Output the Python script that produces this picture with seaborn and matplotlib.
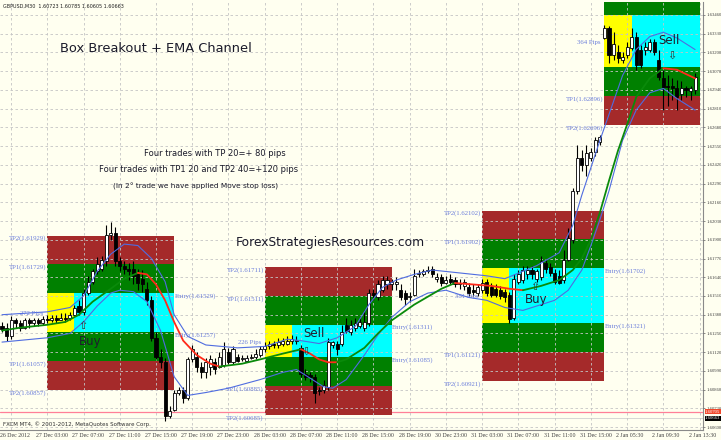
import matplotlib
matplotlib.use("Agg")
import matplotlib.pyplot as plt
import matplotlib.transforms as mtransforms
from matplotlib.patches import Rectangle
import numpy as np
import pandas as pd
import seaborn as sns

# ── GBPUSD M30 candles, 26 Dec 2012 -> 2 Jan 2013 (one value per bar) ─────────
OPEN = [1.6130, 1.6129, 1.6123, 1.6134, 1.6132, 1.6129, 1.6134, 1.6132, 1.6134, 1.6132,
        1.6135, 1.6134, 1.6136, 1.6134, 1.6136, 1.6136, 1.6138, 1.6144, 1.6140, 1.6153,
        1.6161, 1.6168, 1.6170, 1.6175, 1.6193, 1.6195, 1.6175, 1.6172, 1.6170, 1.6170,
        1.6166, 1.6163, 1.6156, 1.6148, 1.6122, 1.6109, 1.6105, 1.6068, 1.6072, 1.6084,
        1.6086, 1.6080, 1.6107, 1.6109, 1.6102, 1.6098, 1.6102, 1.6105, 1.6102, 1.6103,
        1.6112, 1.6105, 1.6109, 1.6107, 1.6106, 1.6108, 1.6109, 1.6110, 1.6114, 1.6116,
        1.6118, 1.6117, 1.6118, 1.6118, 1.6120, 1.6120, 1.6115, 1.6097, 1.6096, 1.6095,
        1.6086, 1.6086, 1.6088, 1.6117, 1.6118, 1.6118, 1.6131, 1.6126, 1.6129, 1.6130,
        1.6129, 1.6132, 1.6153, 1.6150, 1.6155, 1.6159, 1.6159, 1.6159, 1.6155, 1.6153,
        1.6150, 1.6152, 1.6166, 1.6166, 1.6168, 1.6170, 1.6163, 1.6164, 1.6160, 1.6163,
        1.6162, 1.6159, 1.6158, 1.6157, 1.6155, 1.6153, 1.6155, 1.6161, 1.6157, 1.6156,
        1.6155, 1.6154, 1.6152, 1.6136, 1.6161, 1.6162, 1.6166, 1.6169, 1.6163, 1.6164,
        1.6174, 1.6171, 1.6167, 1.6165, 1.6162, 1.6176, 1.6190, 1.6224, 1.6247, 1.6242,
        1.6247, 1.6251, 1.6258, 1.6330, 1.6337, 1.6318, 1.6320, 1.6315, 1.6318, 1.6323,
        1.6331, 1.6322, 1.6322, 1.6322, 1.6327, 1.6315, 1.6302, 1.6297, 1.6297, 1.6295,
        1.6291, 1.6295, 1.6293, 1.6294]
HIGH = [1.6133, 1.6132, 1.6137, 1.6136, 1.6134, 1.6136, 1.6136, 1.6136, 1.6136, 1.6137,
        1.6138, 1.6138, 1.6138, 1.6139, 1.6139, 1.6140, 1.6145, 1.6148, 1.6156, 1.6165,
        1.6170, 1.6178, 1.6179, 1.6200, 1.6202, 1.6199, 1.6178, 1.6175, 1.6174, 1.6175,
        1.6170, 1.6169, 1.6161, 1.6151, 1.6126, 1.6114, 1.6108, 1.6075, 1.6086, 1.6088,
        1.6088, 1.6109, 1.6117, 1.6112, 1.6105, 1.6108, 1.6110, 1.6108, 1.6112, 1.6119,
        1.6115, 1.6116, 1.6111, 1.6110, 1.6110, 1.6111, 1.6114, 1.6116, 1.6119, 1.6120,
        1.6120, 1.6122, 1.6122, 1.6123, 1.6124, 1.6123, 1.6117, 1.6100, 1.6098, 1.6097,
        1.6088, 1.6093, 1.6122, 1.6120, 1.6120, 1.6131, 1.6136, 1.6134, 1.6136, 1.6136,
        1.6141, 1.6156, 1.6156, 1.6162, 1.6165, 1.6165, 1.6163, 1.6164, 1.6159, 1.6155,
        1.6154, 1.6170, 1.6169, 1.6170, 1.6172, 1.6172, 1.6167, 1.6166, 1.6165, 1.6166,
        1.6164, 1.6163, 1.6163, 1.6160, 1.6159, 1.6159, 1.6163, 1.6163, 1.6160, 1.6159,
        1.6158, 1.6156, 1.6154, 1.6166, 1.6169, 1.6172, 1.6172, 1.6172, 1.6170, 1.6179,
        1.6177, 1.6174, 1.6170, 1.6169, 1.6183, 1.6198, 1.6226, 1.6256, 1.6252, 1.6256,
        1.6254, 1.6261, 1.6263, 1.6339, 1.6338, 1.6334, 1.6325, 1.6320, 1.6327, 1.6337,
        1.6334, 1.6325, 1.6327, 1.6329, 1.6329, 1.6322, 1.6308, 1.6304, 1.6302, 1.6301,
        1.6300, 1.6297, 1.6297, 1.6306]
LOW = [1.6126, 1.6120, 1.6121, 1.6129, 1.6127, 1.6128, 1.6129, 1.6130, 1.6130, 1.6131,
       1.6132, 1.6133, 1.6132, 1.6134, 1.6133, 1.6134, 1.6137, 1.6138, 1.6138, 1.6152,
       1.6159, 1.6166, 1.6168, 1.6172, 1.6190, 1.6172, 1.6168, 1.6166, 1.6162, 1.6159,
       1.6155, 1.6154, 1.6145, 1.6120, 1.6107, 1.6101, 1.6064, 1.6066, 1.6071, 1.6082,
       1.6077, 1.6079, 1.6105, 1.6098, 1.6094, 1.6094, 1.6096, 1.6097, 1.6101, 1.6102,
       1.6104, 1.6104, 1.6105, 1.6106, 1.6105, 1.6107, 1.6107, 1.6109, 1.6112, 1.6114,
       1.6115, 1.6115, 1.6116, 1.6117, 1.6118, 1.6118, 1.6095, 1.6093, 1.6091, 1.6077,
       1.6082, 1.6084, 1.6086, 1.6115, 1.6110, 1.6116, 1.6125, 1.6124, 1.6127, 1.6129,
       1.6127, 1.6130, 1.6148, 1.6148, 1.6154, 1.6156, 1.6155, 1.6155, 1.6148, 1.6145,
       1.6147, 1.6151, 1.6164, 1.6165, 1.6167, 1.6164, 1.6161, 1.6158, 1.6159, 1.6159,
       1.6157, 1.6156, 1.6155, 1.6151, 1.6151, 1.6151, 1.6153, 1.6151, 1.6150, 1.6150,
       1.6149, 1.6147, 1.6132, 1.6134, 1.6159, 1.6160, 1.6163, 1.6163, 1.6161, 1.6162,
       1.6167, 1.6165, 1.6159, 1.6159, 1.6160, 1.6175, 1.6188, 1.6222, 1.6238, 1.6234,
       1.6245, 1.6248, 1.6256, 1.6329, 1.6313, 1.6315, 1.6313, 1.6313, 1.6316, 1.6322,
       1.6308, 1.6309, 1.6318, 1.6320, 1.6318, 1.6301, 1.6280, 1.6283, 1.6287, 1.6280,
       1.6287, 1.6289, 1.6287, 1.6291]
CLOSE = [1.6128, 1.6123, 1.6134, 1.6132, 1.6129, 1.6134, 1.6132, 1.6134, 1.6132, 1.6135,
         1.6134, 1.6136, 1.6134, 1.6136, 1.6135, 1.6138, 1.6143, 1.6140, 1.6153, 1.6161,
         1.6168, 1.6173, 1.6176, 1.6193, 1.6195, 1.6175, 1.6172, 1.6170, 1.6168, 1.6165,
         1.6160, 1.6159, 1.6148, 1.6122, 1.6109, 1.6105, 1.6068, 1.6071, 1.6084, 1.6086,
         1.6080, 1.6107, 1.6114, 1.6102, 1.6098, 1.6105, 1.6107, 1.6100, 1.6109, 1.6114,
         1.6105, 1.6114, 1.6106, 1.6108, 1.6108, 1.6109, 1.6111, 1.6114, 1.6116, 1.6118,
         1.6117, 1.6119, 1.6120, 1.6120, 1.6121, 1.6120, 1.6097, 1.6095, 1.6095, 1.6084,
         1.6085, 1.6089, 1.6119, 1.6119, 1.6114, 1.6126, 1.6127, 1.6131, 1.6132, 1.6133,
         1.6133, 1.6153, 1.6152, 1.6159, 1.6162, 1.6162, 1.6161, 1.6161, 1.6150, 1.6149,
         1.6151, 1.6165, 1.6167, 1.6168, 1.6169, 1.6166, 1.6164, 1.6160, 1.6162, 1.6161,
         1.6159, 1.6160, 1.6161, 1.6153, 1.6154, 1.6157, 1.6160, 1.6153, 1.6152, 1.6152,
         1.6151, 1.6150, 1.6135, 1.6163, 1.6166, 1.6169, 1.6169, 1.6166, 1.6168, 1.6175,
         1.6170, 1.6167, 1.6161, 1.6160, 1.6176, 1.6191, 1.6224, 1.6247, 1.6242, 1.6250,
         1.6251, 1.6259, 1.6261, 1.6337, 1.6318, 1.6326, 1.6316, 1.6317, 1.6324, 1.6331,
         1.6311, 1.6311, 1.6324, 1.6327, 1.6320, 1.6303, 1.6296, 1.6296, 1.6295, 1.6289,
         1.6295, 1.6294, 1.6295, 1.6303]

# ── EMA channel (read at selected bars) ───────────────────────────────────────
MID_BARS = [0, 4, 10, 14, 17, 20, 24, 27, 30, 32, 34, 36, 38, 40, 43, 46, 48,
            53, 57, 62, 66, 68, 70, 72, 74, 76, 80, 83, 86, 91, 97, 100,
            104, 108, 112, 115, 119, 123, 126, 128, 130, 132, 134, 136, 138, 140,
            143, 146, 149, 151, 153]
MID_PRICE = [1.6127, 1.6129, 1.6131, 1.6133, 1.6138, 1.6147, 1.6156, 1.6163, 1.6167,
             1.6166, 1.6159, 1.6148, 1.6133, 1.6120, 1.6110, 1.6104, 1.6102,
             1.6104, 1.6107, 1.6111, 1.6114, 1.6111, 1.6107, 1.6105, 1.6105,
             1.6107, 1.6115, 1.6125, 1.6134, 1.6145, 1.6156, 1.6160,
             1.6159, 1.6158, 1.6156, 1.6155, 1.6158, 1.6162, 1.6169, 1.6177, 1.6190,
             1.6209, 1.6231, 1.6252, 1.6270, 1.6289, 1.6302, 1.6309,
             1.6308, 1.6305, 1.6302]
MID_TURN_BARS = [0, 30, 48, 66, 74, 100, 115, 146, 153]   # colour flips rising/falling

UPPER_BARS = [0, 10, 15, 18, 21, 24, 27, 30, 33, 36, 38, 41, 45, 52, 58, 63, 66, 70, 74, 78,
              81, 84, 87, 91, 95, 101, 107, 111, 118, 123, 126, 128, 130, 132, 134, 137,
              140, 143, 146, 149, 153]
UPPER_PRICE = [1.6138, 1.6140, 1.6143, 1.6151, 1.6168, 1.6180, 1.6187, 1.6186, 1.6177, 1.6161,
               1.6138, 1.6123, 1.6117, 1.6115, 1.6116, 1.6121, 1.6120, 1.6118, 1.6122, 1.6130,
               1.6145, 1.6157, 1.6162, 1.6166, 1.6169, 1.6167, 1.6165, 1.6163, 1.6172, 1.6181,
               1.6200, 1.6221, 1.6240, 1.6259, 1.6277, 1.6304, 1.6322, 1.6331, 1.6334, 1.6330,
               1.6322]
LOWER_BARS = [0, 10, 15, 18, 21, 24, 26, 29, 32, 35, 38, 41, 45, 50, 57, 62, 65, 68, 71, 73,
              76, 80, 83, 86, 90, 94, 98, 103, 107, 111, 115, 119, 122, 125, 128, 130, 132,
              134, 137, 140, 143, 146, 149, 153]
LOWER_PRICE = [1.6119, 1.6122, 1.6125, 1.6133, 1.6144, 1.6153, 1.6155, 1.6154, 1.6147, 1.6127,
               1.6095, 1.6082, 1.6084, 1.6087, 1.6093, 1.6098, 1.6100, 1.6094, 1.6088, 1.6087,
               1.6093, 1.6110, 1.6124, 1.6136, 1.6147, 1.6153, 1.6155, 1.6150, 1.6148, 1.6143,
               1.6141, 1.6145, 1.6148, 1.6155, 1.6169, 1.6186, 1.6204, 1.6224, 1.6259, 1.6280,
               1.6292, 1.6295, 1.6288, 1.6280]

# ── Breakout boxes ────────────────────────────────────────────────────────────
BOX_START = [10, 58, 106, 133]
BOX_BREAK = [16, 64, 112, 139]
BOX_END = [38, 86, 133, 154]
ENTRY_HI = [1.61529, 1.61311, 1.61702, 1.63460]
ENTRY_LO = [1.61257, 1.61085, 1.61321, 1.63096]
TP1_UP = [1.61729, 1.61511, 1.61902, 1.63660]
TP2_UP = [1.61929, 1.61711, 1.62102, 1.63860]
TP1_DN = [1.61057, 1.60885, 1.61121, 1.62896]
TP2_DN = [1.60857, 1.60685, 1.60921, 1.62696]
BOX_PIPS = [272, 226, 381, 364]
SIGNAL = ["Buy", "Sell", "Buy", "Sell"]

ASK_LINE = 1.60705
BID_LINE = 1.60663

PRICE_TICKS = ["1.60600", "1.60730", "1.60860", "1.60990", "1.61120", "1.61250",
               "1.61380", "1.61510", "1.61640", "1.61770", "1.61900", "1.62030",
               "1.62160", "1.62290", "1.62420", "1.62550", "1.62680", "1.62810",
               "1.62940", "1.63070", "1.63200", "1.63330", "1.63460"]
TIME_LABELS = ["26 Dec 2012", "27 Dec 03:00", "27 Dec 07:00", "27 Dec 11:00",
               "27 Dec 15:00", "27 Dec 19:00", "27 Dec 23:00", "28 Dec 03:00",
               "28 Dec 07:00", "28 Dec 11:00", "28 Dec 15:00", "28 Dec 19:00",
               "30 Dec 23:00", "31 Dec 03:00", "31 Dec 07:00", "31 Dec 11:00",
               "31 Dec 15:00", "2 Jan 05:30", "2 Jan 09:30", "2 Jan 13:30"]

# ── Style ─────────────────────────────────────────────────────────────────────
BG = "#FFFFF0"
BROWN, GREEN, CYAN, YELLOW = "#A52A2A", "#008000", "#00FFFF", "#FFFF00"
LABEL_BLUE = "#6A7DDB"
BAND_BLUE = "#4F6CE0"
SERIF = ["Liberation Serif", "DejaVu Serif"]
YMIN, YMAX = 1.60580, 1.63550
XMIN, XMAX = -0.44, 154.75

sns.set_style("white")
plt.rcParams["font.family"] = ["DejaVu Sans"]

W, H = 721, 440
fig = plt.figure(figsize=(W / 100, H / 100), dpi=100, facecolor=BG)
ax = fig.add_axes([0, 10 / H, 703 / W, 428 / H])
ax.set_facecolor(BG)
ax.set_xlim(XMIN, XMAX)
ax.set_ylim(YMIN, YMAX)


def px(x, y):
    return x / W, 1 - y / H


def level_label(x, y, text, ha):
    # only the labels that fall inside the chart window are shown by MT4
    if YMIN + 0.0003 < y < YMAX - 0.0001 and XMIN < x < XMAX - 10:
        ax.text(x, y, text, ha=ha, va="top", fontsize=4.9, color=LABEL_BLUE,
                family=SERIF, zorder=6)


# boxes
for i in range(len(BOX_START)):
    l, b, r = BOX_START[i], BOX_BREAK[i], BOX_END[i]
    zones = [
        (l, r, TP1_UP[i], TP2_UP[i], BROWN),
        (l, r, ENTRY_HI[i], TP1_UP[i], GREEN),
        (l, b, ENTRY_LO[i], ENTRY_HI[i], YELLOW),
        (b, r, ENTRY_LO[i], ENTRY_HI[i], CYAN),
        (l, r, TP1_DN[i], ENTRY_LO[i], GREEN),
        (l, r, TP2_DN[i], TP1_DN[i], BROWN),
    ]
    for x0, x1, y0, y1, col in zones:
        ax.add_patch(Rectangle((x0, y0), x1 - x0, y1 - y0, facecolor=col,
                               edgecolor="none", zorder=1))

    level_label(l - 0.2, TP2_UP[i], f"TP2({TP2_UP[i]:.5f})", "right")
    level_label(l - 0.2, TP1_UP[i], f"TP1({TP1_UP[i]:.5f})", "right")
    level_label(l - 0.2, TP1_DN[i], f"TP1({TP1_DN[i]:.5f})", "right")
    level_label(l - 0.2, TP2_DN[i], f"TP2({TP2_DN[i]:.5f})", "right")
    level_label(r + 0.1, ENTRY_HI[i], f"Entry({ENTRY_HI[i]:.5f})", "left")
    level_label(r + 0.1, ENTRY_LO[i], f"Entry({ENTRY_LO[i]:.5f})", "left")
    level_label(l - 0.8, (ENTRY_HI[i] + ENTRY_LO[i]) / 2 + 0.0001, f"{BOX_PIPS[i]} Pips", "right")

# current price lines
ax.axhline(ASK_LINE, color="#FF7F98", lw=0.9, zorder=0.8)
ax.axhline(BID_LINE, color="#D0D0D0", lw=0.6, zorder=0.8)

# grid (drawn over the boxes like MT4)
ax.set_axisbelow(False)
ax.set_xticks([2 + 8 * k for k in range(len(TIME_LABELS))])
ax.set_xticklabels([])
ax.set_yticks([float(t) for t in PRICE_TICKS])
ax.set_yticklabels(PRICE_TICKS, family=SERIF, fontsize=3.4, color="#404040")
ax.yaxis.tick_right()
ax.tick_params(axis="y", length=1.5, width=0.5, pad=0.8, colors="#606060",
               labelcolor="#404040")
ax.tick_params(axis="x", length=0)
ax.grid(True, color="#C4C4C4", lw=0.6, ls=(0, (3, 3)))

# candles
bars = pd.DataFrame({"bar": np.arange(len(CLOSE)), "open": OPEN, "high": HIGH,
                     "low": LOW, "close": CLOSE})
bars["lo"] = bars[["open", "close"]].min(axis=1)
bars["h"] = (bars["close"] - bars["open"]).abs().clip(lower=0.00003)
up = bars["close"] >= bars["open"]
ax.vlines(bars["bar"], bars["low"], bars["high"], color="black", lw=0.8, zorder=3)
ax.bar(bars["bar"][up], bars["h"][up], bottom=bars["lo"][up], width=0.68,
       color="white", edgecolor="black", linewidth=0.6, zorder=4)
ax.bar(bars["bar"][~up], bars["h"][~up], bottom=bars["lo"][~up], width=0.68,
       color="black", edgecolor="black", linewidth=0.6, zorder=4)

# EMA channel
sns.lineplot(x=UPPER_BARS, y=UPPER_PRICE, ax=ax, color=BAND_BLUE, lw=0.8, zorder=5)
sns.lineplot(x=LOWER_BARS, y=LOWER_PRICE, ax=ax, color=BAND_BLUE, lw=0.8, zorder=5)
mid = pd.DataFrame({"bar": MID_BARS, "price": MID_PRICE})
for k in range(len(MID_TURN_BARS) - 1):
    seg = mid[(mid["bar"] >= MID_TURN_BARS[k]) & (mid["bar"] <= MID_TURN_BARS[k + 1])]
    col = "#0A8A0A" if k % 2 == 0 else "#FF2A1A"
    sns.lineplot(data=seg, x="bar", y="price", ax=ax, color=col, lw=1.3, zorder=5)

ax.set_xlabel("")
ax.set_ylabel("")
for s in ["left", "top"]:
    ax.spines[s].set_visible(False)
for s in ["right", "bottom"]:
    ax.spines[s].set_color("#8A8A8A")
    ax.spines[s].set_linewidth(0.8)

# time axis labels
tr = mtransforms.blended_transform_factory(ax.transData, ax.transAxes)
for k, lab in enumerate(TIME_LABELS):
    ax.text(8 * k - 0.45, -0.012, lab, transform=tr, ha="left", va="center",
            fontsize=4.2, family=SERIF, color="#404040", clip_on=False)

# price boxes on the axis
trp = mtransforms.blended_transform_factory(ax.transAxes, ax.transData)
ax.text(1.003, ASK_LINE + 0.00003, f"{ASK_LINE:.5f}", transform=trp, fontsize=3.4,
        family=SERIF, color="white", va="center", ha="left",
        bbox=dict(boxstyle="square,pad=0.12", fc="#F0462A", ec="none"))
ax.text(1.003, BID_LINE - 0.00003, f"{BID_LINE:.5f}", transform=trp, fontsize=3.4,
        family=SERIF, color="white", va="center", ha="left",
        bbox=dict(boxstyle="square,pad=0.12", fc="black", ec="none"))

# signal words and arrows
SIG_POS = [(90, 341), (314, 333), (536, 300), (669, 40)]
ARROW_POS = [(83, 326), (306, 352), (535, 287), (672, 56)]
for i, s in enumerate(SIGNAL):
    fig.text(*px(*SIG_POS[i]), s, fontsize=8.5, color="#1E1E2E", ha="center", va="center")
    glyph = "\u21E7" if s == "Buy" else "\u21E9"
    fig.text(*px(*ARROW_POS[i]), glyph, fontsize=8, color="#333333", ha="center", va="center")

# annotations
fig.text(*px(3, 6), "GBPUSD,M30  1.60723 1.60785 1.60605 1.60663", fontsize=3.5,
         color="#202020", ha="left", va="center")
fig.text(*px(60, 48), "Box Breakout + EMA Channel", fontsize=9.4, color="#1A1A2A",
         ha="left", va="center")
fig.text(*px(215, 154), "Four trades with TP 20=+ 80 pips", fontsize=6.0,
         color="#1A1A2A", ha="center", va="center")
fig.text(*px(199, 170), "Four trades with TP1 20 and TP2 40=+120 pips", fontsize=6.0,
         color="#1A1A2A", ha="center", va="center")
fig.text(*px(196, 186), "(In 2\u00b0 trade we have applied Move stop loss)", fontsize=5.3,
         color="#1A1A2A", ha="center", va="center")
fig.text(*px(330, 242), "ForexStrategiesResources.com", fontsize=8.8, color="#1A1A2A",
         ha="center", va="center")
fig.text(*px(3, 424), "FXCM MT4, \u00a9 2001-2012, MetaQuotes Software Corp.", fontsize=4.0,
         color="#303030", ha="left", va="center")

fig.savefig("out.png", dpi=100, facecolor=BG)
